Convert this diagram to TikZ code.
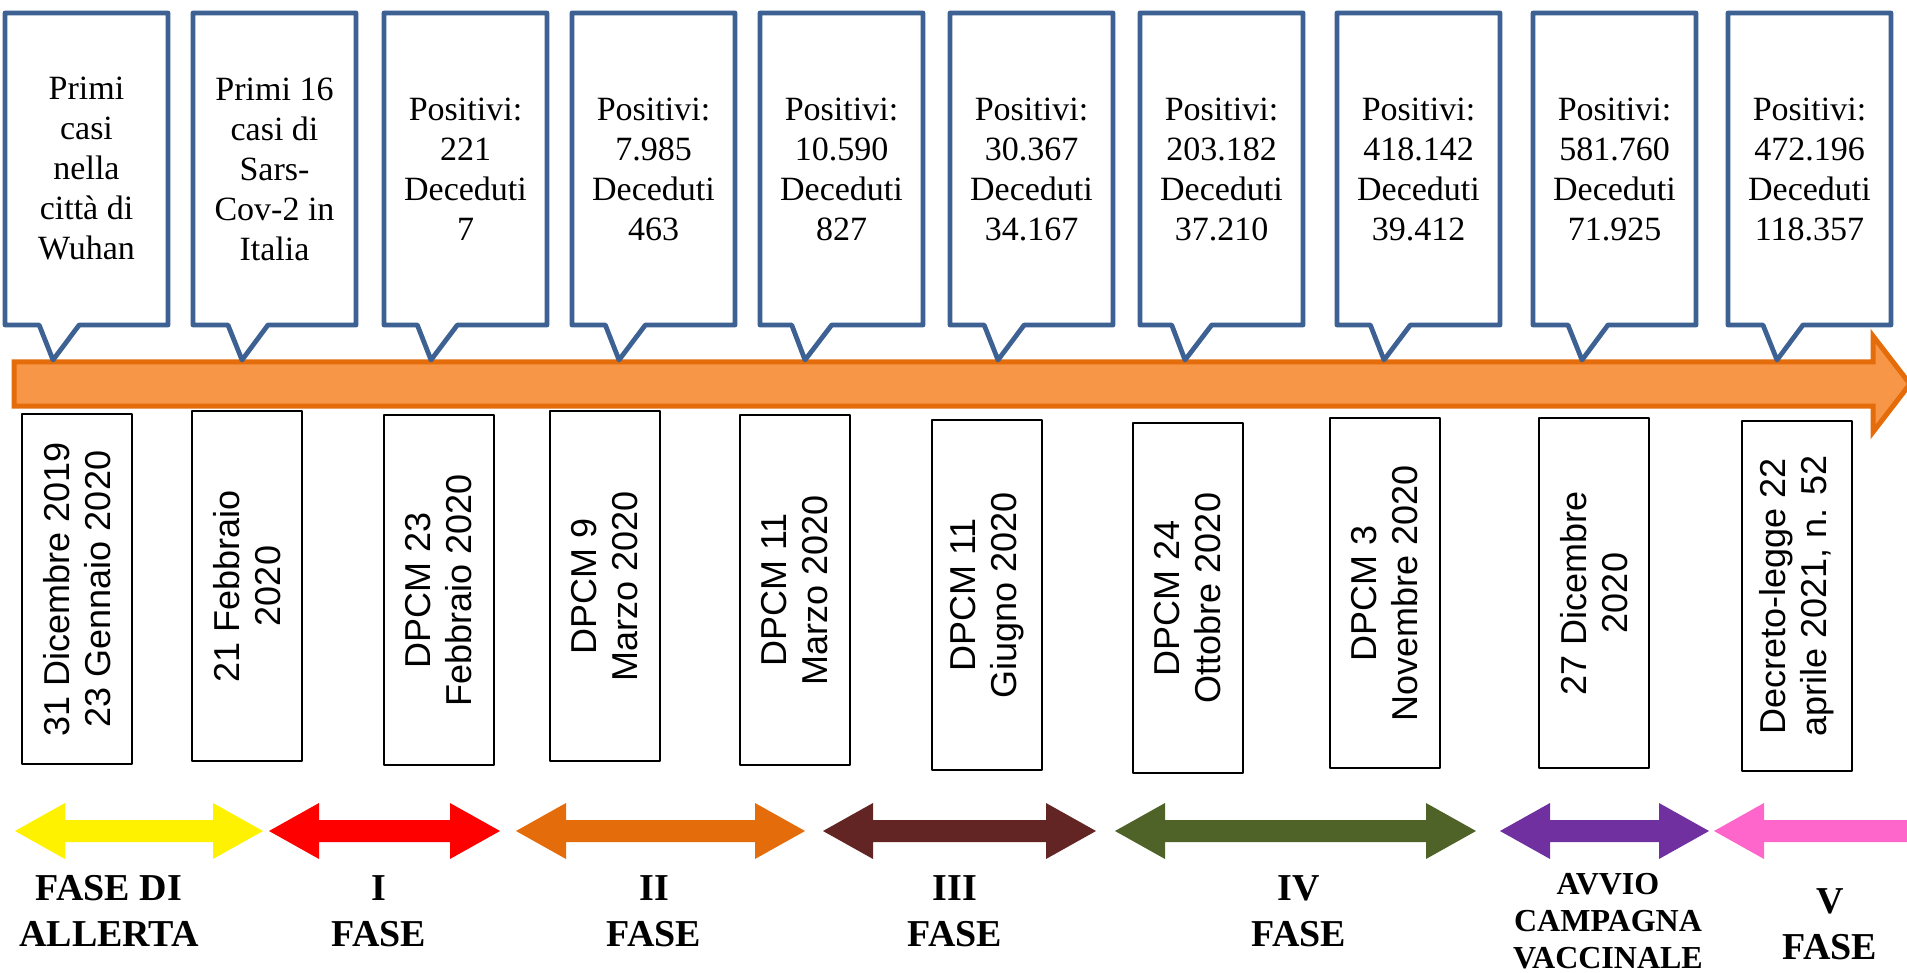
\documentclass[tikz,border=0pt]{standalone}
\usepackage{fontspec}
\setmainfont{Liberation Serif}
\setsansfont{Liberation Sans}
\usetikzlibrary{shapes.callouts}
\definecolor{calloutblue}{HTML}{3C6192}
\definecolor{barfill}{HTML}{F79646}
\definecolor{bardraw}{HTML}{E46C0A}
\definecolor{fasebrown}{HTML}{632523}
\definecolor{fasegreen}{HTML}{4F6228}
\definecolor{fasepurple}{HTML}{7030A0}
\definecolor{fasepink}{HTML}{FF66CC}
\tikzset{
  bubble/.style={rectangle callout, draw=calloutblue, line width=2.4pt, fill=white,
    minimum width=81.5pt, minimum height=156pt, callout pointer width=20pt,
    align=center, inner sep=2pt, font=\fontsize{17}{20}\selectfont},
  datebox/.style={draw, line width=0.75pt, fill=white, minimum width=175pt,
    minimum height=55pt, inner sep=0pt, align=center,
    font=\sffamily\fontsize{18}{20.5}\selectfont},
  fase/.style={align=center, font=\bfseries\fontsize{19}{23}\selectfont}
}
\begin{document}
\begin{tikzpicture}[x=0.5pt, y=-0.5pt, line join=round]
    \useasboundingbox (0,0) rectangle (1907,973);
    \clip (0,0) rectangle (1907,973);
    % timeline
    \filldraw[fill=barfill, draw=bardraw, line width=2.5pt, line join=miter]
        (14,362)--(1873,362)--(1873,336)--(1910,384)--(1873,432)--(1873,406)--(14,406)--cycle;
    \foreach \n/\x/\p/\t in {1/5/53/{Primi\\casi\\nella\\città di\\Wuhan},
        2/193/242/{Primi 16\\casi di\\Sars-\\Cov-2 in\\Italia},
        3/384/431/{Positivi:\\221\\Deceduti\\7},
        4/572/619/{Positivi:\\7.985\\Deceduti\\463},
        5/760/805/{Positivi:\\10.590\\Deceduti\\827},
        6/950/998/{Positivi:\\30.367\\Deceduti\\34.167},
        7/1140/1185/{Positivi:\\203.182\\Deceduti\\37.210},
        8/1337/1384/{Positivi:\\418.142\\Deceduti\\39.412},
        9/1533/1582/{Positivi:\\581.760\\Deceduti\\71.925},
        10/1728/1777/{Positivi:\\472.196\\Deceduti\\118.357}}
        \node[bubble, callout absolute pointer={(\p,360)}] (c\n) at (\x+81.5,169) {\t};
    \foreach \n/\x/\y/\t in {1/77/589/{31 Dicembre 2019\\23 Gennaio 2020},
        2/247/586/{21 Febbraio\\2020}, 3/439/590/{DPCM 23\\Febbraio 2020},
        4/605/586/{DPCM 9\\Marzo 2020}, 5/795/590/{DPCM 11\\Marzo 2020},
        6/987/595/{DPCM 11\\Giugno 2020}, 7/1188/598/{DPCM 24\\Ottobre 2020},
        8/1385/593/{DPCM 3\\Novembre 2020}, 9/1594/593/{27 Dicembre\\2020},
        10/1797/596/{Decreto-legge 22\\aprile 2021, n. 52}}
        \node[datebox, rotate=90] (d\n) at (\x,\y) {\t};
    % fasi
    \foreach \l/\r/\c in {15/263/yellow, 269/500/red, 516/805/bardraw, 823/1096/fasebrown,
        1115/1476/fasegreen, 1500/1709/fasepurple, 1714/1960/fasepink}
        \fill[\c] (\l,831)--++(50,-28)--++(0,17)--(\r-50,820)--++(0,-17)--(\r,831)
            --++(-50,28)--++(0,-17)--(\l+50,842)--++(0,17)--cycle;
    \foreach \n/\x/\y/\t in {1/109/911/{FASE DI\\ALLERTA}, 2/379/911/{I\\FASE},
        3/654/911/{II\\FASE}, 4/955/911/{III\\FASE}, 5/1299/911/{IV\\FASE},
        7/1830/924/{V\\FASE}}
        \node[fase] (f\n) at (\x,\y) {\t};
    \node[fase, font=\bfseries\fontsize{16}{18.5}\selectfont] (f6) at (1608,921)
        {AVVIO\\CAMPAGNA\\VACCINALE};
\end{tikzpicture}
\end{document}
